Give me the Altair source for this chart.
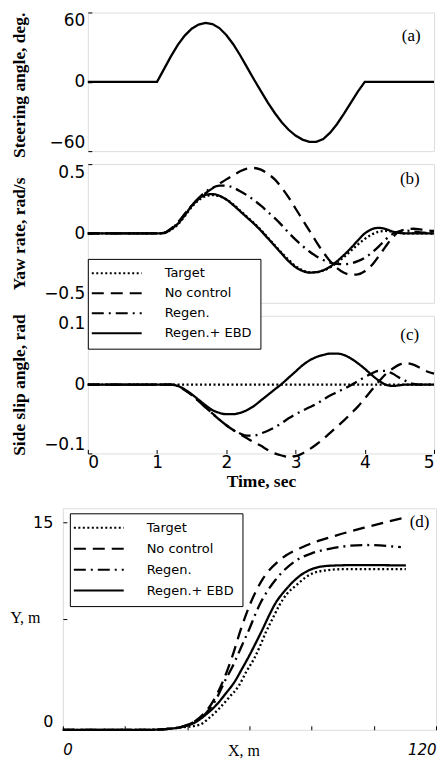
import altair as alt
import pandas as pd

SERIES = ["Target", "No control", "Regen.", "Regen.+ EBD"]
DASHES = [[2, 2.5], [12, 7], [12, 5, 2, 5], [1, 0]]

# ---- time base for panels (a)-(c), seconds ----
time = [0.0, 1.0, 1.1, 1.2, 1.3, 1.4, 1.5, 1.6, 1.7, 1.8, 1.9, 2.0, 2.1, 2.2,
        2.3, 2.4, 2.5, 2.6, 2.7, 2.8, 2.9, 3.0, 3.1, 3.2, 3.3, 3.4, 3.5, 3.6,
        3.7, 3.8, 3.9, 4.0, 4.1, 4.2, 4.3, 4.4, 4.5, 4.6, 4.7, 4.8, 4.9, 5.0]

# (a) steering angle, deg
steer = [0, 0, 11, 22, 32, 40, 46, 49.5, 51, 50, 46.5, 40.5, 32.5, 23, 12.5, 2,
         -8, -18, -27, -35, -41.5, -46.5, -50, -52, -52, -49.5, -44, -36.5,
         -27.5, -18, -8.5, 0, 0, 0, 0, 0, 0, 0, 0, 0, 0, 0]

# (b) yaw rate, rad/s
yaw_target = [0, 0, 0.002, 0.025, 0.065, 0.125, 0.19, 0.24, 0.268, 0.276, 0.268,
              0.245, 0.21, 0.165, 0.12, 0.075, 0.025, -0.03, -0.085, -0.14, -0.19,
              -0.235, -0.265, -0.28, -0.28, -0.268, -0.245, -0.21, -0.17, -0.125,
              -0.08, -0.04, -0.008, 0.012, 0.018, 0.012, 0.004, 0, 0, 0, 0, 0]
yaw_nocontrol = [0, 0, 0.004, 0.035, 0.08, 0.14, 0.2, 0.25, 0.29, 0.325, 0.358,
                 0.39, 0.42, 0.448, 0.468, 0.472, 0.46, 0.43, 0.39, 0.33, 0.26,
                 0.18, 0.1, 0.02, -0.06, -0.135, -0.2, -0.25, -0.283, -0.298,
                 -0.295, -0.272, -0.23, -0.165, -0.095, -0.03, 0.015, 0.03, 0.034,
                 0.03, 0.022, 0.018]
yaw_regen = [0, 0, 0.004, 0.033, 0.077, 0.14, 0.2, 0.255, 0.3, 0.33, 0.345, 0.345,
             0.33, 0.305, 0.275, 0.24, 0.2, 0.155, 0.11, 0.06, 0.005, -0.045, -0.09,
             -0.13, -0.165, -0.192, -0.21, -0.22, -0.222, -0.215, -0.2, -0.175,
             -0.14, -0.095, -0.045, -0.005, 0.015, 0.02, 0.015, 0.008, 0.003, 0]
yaw_ebd = [0, 0, 0.003, 0.03, 0.07, 0.13, 0.2, 0.25, 0.278, 0.284, 0.272, 0.245,
           0.205, 0.16, 0.115, 0.07, 0.02, -0.035, -0.09, -0.145, -0.2, -0.243,
           -0.27, -0.282, -0.279, -0.265, -0.24, -0.2, -0.155, -0.105, -0.05, 0.0,
           0.03, 0.04, 0.032, 0.014, 0.004, 0, 0, 0, 0, 0]

# (c) side slip angle, rad
slip_target = [0] * 42
slip_nocontrol = [0, 0, 0, 0, -0.002, -0.008, -0.015, -0.024, -0.033, -0.042, -0.051,
                  -0.059, -0.066, -0.072, -0.078, -0.084, -0.089, -0.095, -0.1, -0.103,
                  -0.105, -0.104, -0.1, -0.094, -0.087, -0.079, -0.07, -0.061, -0.052,
                  -0.042, -0.032, -0.02, -0.008, 0.004, 0.015, 0.023, 0.029, 0.031,
                  0.029, 0.024, 0.019, 0.016]
slip_regen = [0, 0, 0, 0, -0.002, -0.008, -0.015, -0.024, -0.033, -0.042, -0.051,
              -0.059, -0.066, -0.071, -0.074, -0.074, -0.071, -0.067, -0.062, -0.056,
              -0.049, -0.043, -0.038, -0.033, -0.028, -0.022, -0.016, -0.011, -0.006,
              -0.001, 0.005, 0.011, 0.016, 0.02, 0.02, 0.016, 0.01, 0.005, 0.001, 0,
              0, 0]
slip_ebd = [0, 0, 0, 0, -0.002, -0.007, -0.014, -0.022, -0.03, -0.037, -0.041, -0.043,
            -0.043, -0.041, -0.037, -0.031, -0.023, -0.015, -0.007, 0.001, 0.01, 0.019,
            0.028, 0.035, 0.04, 0.043, 0.045, 0.045, 0.043, 0.038, 0.031, 0.023, 0.014,
            0.006, 0.0, -0.002, -0.001, 0, 0, 0, 0, 0]

# (d) trajectory, X and Y in m
traj_target_x = [0, 28, 33, 38, 43.9, 47, 50.3, 53.5, 56.7, 59, 61.5, 63.5, 65.3, 67.5,
                 69.6, 72, 75, 78, 80.3, 84, 90, 100, 110.3]
traj_target_y = [0, 0, 0.05, 0.17, 0.35, 0.85, 1.54, 2.35, 3.22, 4.2, 5.14, 6.1, 7.06,
                 8.05, 8.99, 9.8, 10.43, 11.0, 11.3, 11.5, 11.6, 11.6, 11.6]
traj_nocontrol_x = [0, 28, 33, 38, 42.5, 45.5, 48.2, 51.4, 54.6, 57.3, 60.5, 64.3,
                    69.6, 78.2, 87.8, 97.4, 110.3]
traj_nocontrol_y = [0, 0, 0.05, 0.2, 0.62, 1.2, 2.02, 3.46, 5.38, 7.3, 9.23, 10.9,
                    12.23, 13.31, 14.03, 14.63, 15.35]
traj_regen_x = [0, 28, 33, 38, 42.5, 46, 49, 52.5, 54.4, 56.2, 58.1, 60, 61.8, 63.7,
                66, 68.6, 71.5, 75, 80, 85.7, 97.4, 108.7]
traj_regen_y = [0, 0, 0.05, 0.2, 0.6, 1.2, 2.1, 3.7, 4.5, 5.38, 6.35, 7.3, 8.3, 9.23,
                10.1, 10.9, 11.6, 12.23, 12.75, 13.07, 13.35, 13.19]
traj_ebd_x = [0, 28, 33, 38, 42.9, 46, 49.3, 52.3, 55.2, 57.6, 60, 62.2, 64.3, 66.4,
              68.6, 71.2, 73.9, 77, 80.3, 85.7, 95, 110.3]
traj_ebd_y = [0, 0, 0.05, 0.2, 0.58, 1.1, 1.78, 2.6, 3.46, 4.4, 5.38, 6.35, 7.3, 8.3,
              9.23, 10.0, 10.67, 11.25, 11.63, 11.85, 11.9, 11.87]

# panel tags
tag_a = {"t": [4.67], "v": [40], "label": ["(a)"]}
tag_b = {"t": [4.65], "v": [0.39], "label": ["(b)"]}
tag_c = {"t": [4.65], "v": [0.072], "label": ["(c)"]}
tag_d = {"t": [114.7], "v": [15.0], "label": ["(d)"]}


def long_time(series_lists):
    rows = []
    for name, vals in zip(SERIES, series_lists):
        for t, v in zip(time, vals):
            rows.append({"t": t, "v": v, "series": name})
    return pd.DataFrame(rows)


def long_xy(pairs):
    rows = []
    for name, (xs, ys) in zip(SERIES, pairs):
        for i, (x, y) in enumerate(zip(xs, ys)):
            rows.append({"t": x, "v": y, "series": name, "i": i})
    return pd.DataFrame(rows)


df_a = pd.DataFrame({"t": time, "v": steer})
df_b = long_time([yaw_target, yaw_nocontrol, yaw_regen, yaw_ebd])
df_c = long_time([slip_target, slip_nocontrol, slip_regen, slip_ebd])
df_d = long_xy([(traj_target_x, traj_target_y), (traj_nocontrol_x, traj_nocontrol_y),
                (traj_regen_x, traj_regen_y), (traj_ebd_x, traj_ebd_y)])

NUM = "DejaVu Sans"
SERIF = "Liberation Serif"
W = 347
H_A, H_B, H_C = 139, 139, 138
W_D, H_D = 374, 222
LW = 2.3


def y_axis(title, values, hide, height, dy=0):
    return alt.Axis(values=values,
                    labelExpr=f"abs(datum.value) == {hide} ? '' : format(datum.value, '')",
                    labelFlush=True, labelFont=NUM, labelFontSize=17, labelColor="black",
                    labelPadding=3, tickSize=4, tickColor="black", offset=-4,
                    domain=False, grid=False, title=title, titleFont=SERIF,
                    titleFontSize=17.5, titleFontWeight="bold", titleColor="black",
                    titleX=-72, titleY=height / 2 + dy, titleAngle=270,
                    titleBaseline="middle", titleAlign="center")


def legend(lx, ly, row_pad):
    return alt.Legend(title=None, orient="none", legendX=lx, legendY=ly,
                      symbolType="M-1.909,0H7.182", symbolSize=121,
                      symbolStrokeWidth=2, symbolStrokeColor="black",
                      symbolFillColor="transparent", labelFont=NUM, labelFontSize=13,
                      labelColor="black", labelOffset=56, padding=8,
                      labelExpr="datum.label + '  '",
                      rowPadding=row_pad, fillColor="white", strokeColor="black",
                      labelLimit=300)


def dash(lg):
    return alt.StrokeDash("series:N", scale=alt.Scale(domain=SERIES, range=DASHES),
                          legend=lg)


def tag_layer(tag):
    return alt.Chart(pd.DataFrame(tag)).mark_text(font=SERIF, fontSize=17, color="black").encode(
        x="t:Q", y="v:Q", text="label:N")


def spacer(w):
    return alt.Chart(pd.DataFrame({"s": [0]})).mark_point(size=0, opacity=0).encode(
        x=alt.value(0), y=alt.value(0)).properties(
        width=w, height=1, view=alt.ViewBackground(strokeOpacity=0))


x_time_none = alt.X("t:Q", scale=alt.Scale(domain=[0, 5], nice=False), axis=None)
x_time_axis = alt.X("t:Q", scale=alt.Scale(domain=[0, 5], nice=False),
                    axis=alt.Axis(values=[0, 1, 2, 3, 4, 5], format="d", labelFont=NUM,
                                  labelFontSize=17, labelColor="black", labelPadding=1,
                                  tickSize=4, tickColor="black", offset=-4, domain=False,
                                  grid=False, title="Time, sec", titleFont=SERIF,
                                  titleFontSize=17.5, titleFontWeight="bold",
                                  titleColor="black", titlePadding=2))

pa = alt.layer(
    alt.Chart(df_a).mark_line(color="black", strokeWidth=LW).encode(
        x=x_time_none,
        y=alt.Y("v:Q", scale=alt.Scale(domain=[-60, 60], nice=False),
                axis=y_axis("Steering angle, deg.", [-60, -30, 0, 30, 60], 30, H_A, 3))),
    tag_layer(tag_a)).properties(width=W, height=H_A)

pb = alt.layer(
    alt.Chart(df_b).mark_line(color="black", strokeWidth=LW, interpolate="monotone").encode(
        x=x_time_none,
        y=alt.Y("v:Q", scale=alt.Scale(domain=[-0.5, 0.5], nice=False),
                axis=y_axis("Yaw rate, rad/s", [-0.5, -0.25, 0, 0.25, 0.5], 0.25, H_B)),
        strokeDash=dash(None)),
    tag_layer(tag_b)).properties(width=W, height=H_B)

pc = alt.layer(
    alt.Chart(df_c).mark_line(color="black", strokeWidth=LW, interpolate="monotone").encode(
        x=x_time_axis,
        y=alt.Y("v:Q", scale=alt.Scale(domain=[-0.1, 0.1], nice=False),
                axis=y_axis("Side slip angle, rad", [-0.1, -0.05, 0, 0.05, 0.1], 0.05, H_C)),
        strokeDash=dash(legend(0, -57, 6))),
    tag_layer(tag_c)).properties(width=W, height=H_C)

pd_chart = alt.layer(
    alt.Chart(df_d).mark_line(color="black", strokeWidth=LW, interpolate="monotone").encode(
        x=alt.X("t:Q", scale=alt.Scale(domain=[0, 120], nice=False),
                axis=alt.Axis(values=[0, 20, 40, 60, 80, 100, 120],
                              labelExpr="datum.value == 0 || datum.value == 120 ? datum.label : ''",
                              labelFlush=True, labelFont=NUM, labelFontSize=15,
                              labelFontStyle="italic", labelColor="black", labelPadding=13,
                              tickSize=4, tickColor="black", offset=-4, domain=False,
                              grid=False, title="X, m", titleFont=SERIF, titleFontSize=16,
                              titleFontWeight="normal", titleColor="black", titleX=181,
                              titleY=25, titleBaseline="middle", titleAlign="center")),
        y=alt.Y("v:Q", scale=alt.Scale(domain=[0, 16], nice=False),
                axis=alt.Axis(values=[0, 8, 15],
                              labelExpr="datum.value == 8 ? '' : datum.label",
                              labelFlush=True, labelFont=NUM, labelFontSize=16,
                              labelColor="black", labelPadding=10, tickSize=4,
                              tickColor="black", offset=-4, domain=False, grid=False,
                              title="Y, m", titleFont=SERIF, titleFontSize=16,
                              titleFontWeight="normal", titleColor="black", titleAngle=0,
                              titleX=-42, titleY=109, titleBaseline="middle",
                              titleAlign="center")),
        order="i:Q",
        strokeDash=dash(legend(7, 5, 7))),
    tag_layer(tag_d)).properties(width=W_D, height=H_D)

inner = alt.vconcat(pa, pb, pc, spacing=13, bounds="flush").resolve_scale(
    strokeDash="independent")

top_row = alt.hconcat(spacer(2), inner, spacing=0).resolve_scale(strokeDash="independent")
bottom_row = alt.hconcat(spacer(1), pd_chart, spacing=0).resolve_scale(
    strokeDash="independent")

chart = alt.vconcat(top_row, bottom_row, spacing=17).resolve_scale(
    strokeDash="independent").properties(
    padding={"left": 0, "top": 1.6, "right": 0, "bottom": 0}
).configure_view(stroke="black", strokeWidth=1).configure(background="white")

chart.save("out.html", embed_options={"renderer": "svg", "actions": False})
